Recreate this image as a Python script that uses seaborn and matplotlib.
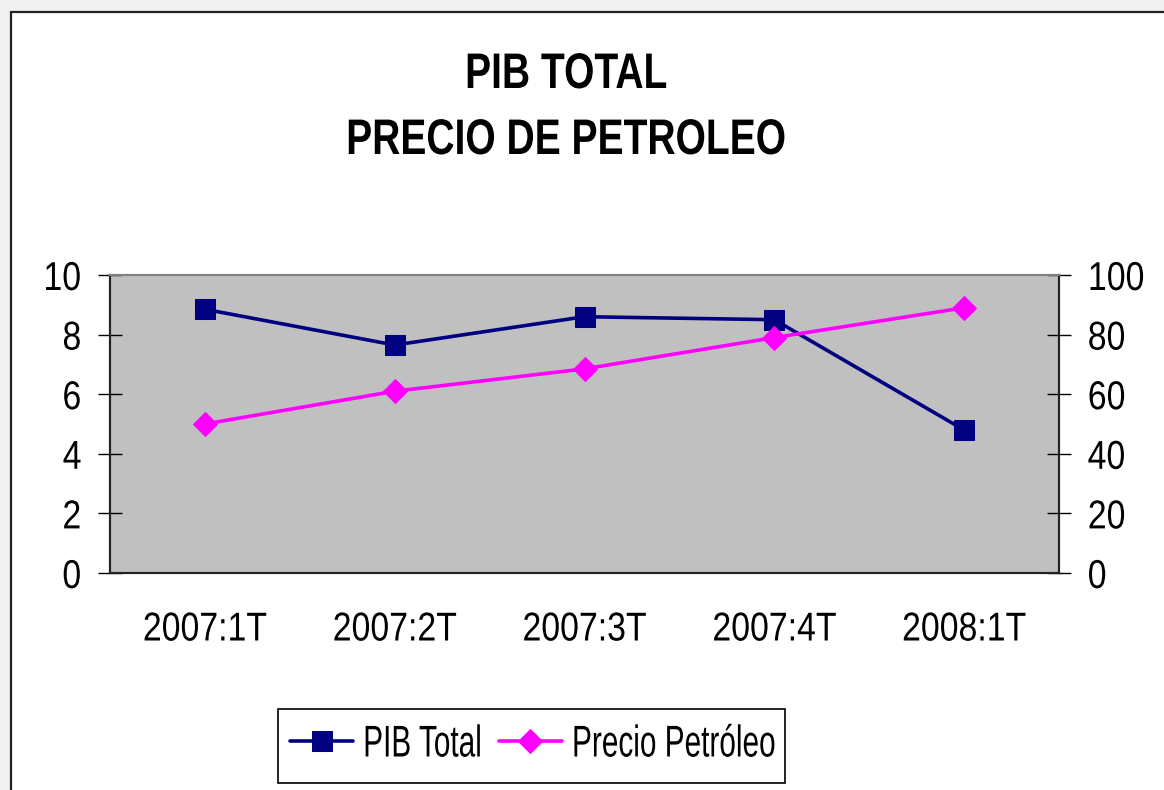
import pandas as pd
import matplotlib
matplotlib.use("Agg")
import matplotlib.pyplot as plt
import seaborn as sns
from matplotlib.patches import Rectangle
from matplotlib.patheffects import AbstractPathEffect
from matplotlib.transforms import Affine2D

# datos
trimestres = ["2007:1T", "2007:2T", "2007:3T", "2007:4T", "2008:1T"]
pib_total = [8.85, 7.65, 8.6, 8.5, 4.8]
precio_petroleo = [50, 61, 68.5, 79, 89]

sns.set_style("white")
plt.rcParams["font.family"] = ["Liberation Sans", "DejaVu Sans"]
for k in ["text.color", "axes.labelcolor", "xtick.color", "ytick.color"]:
    plt.rcParams[k] = "black"


class Estrecho(AbstractPathEffect):
    # comprime el texto en horizontal (letra tipo Arial Narrow)
    def __init__(self, sx=0.84, ancla="center"):
        super().__init__()
        self.sx = sx
        self.ancla = ancla

    def draw_path(self, renderer, gc, tpath, affine, rgbFace=None):
        ext = tpath.get_extents(affine)
        cx = {"left": ext.x0, "right": ext.x1}.get(self.ancla, (ext.x0 + ext.x1) / 2)
        t = affine + Affine2D().translate(-cx, 0).scale(self.sx, 1).translate(cx, 0)
        renderer.draw_path(gc, tpath, t, rgbFace)


df = pd.DataFrame({"trimestre": trimestres, "pib": pib_total, "petroleo": precio_petroleo})

W, H = 1164, 790
fig = plt.figure(figsize=(W / 100, H / 100), dpi=100)
fig.patch.set_facecolor("#f0f0f0")
# marco blanco del grafico
fig.patches.append(Rectangle((11 / W, -0.1), 1.2, 1 - 12 / H + 0.1, transform=fig.transFigure,
                             facecolor="white", edgecolor="#222222", linewidth=1.6, zorder=-5))

ax = fig.add_axes([110 / W, 1 - 573 / H, 949 / W, 298 / H])
ax.set_facecolor("#c0c0c0")
ax2 = ax.twinx()

sns.lineplot(data=df, x="trimestre", y="pib", ax=ax, color="#000080", linewidth=2.6,
             marker="s", markersize=14, markeredgecolor="#000080", label="PIB Total", legend=False)
sns.lineplot(data=df, x="trimestre", y="petroleo", ax=ax2, color="#ff00ff", linewidth=2.6,
             marker="D", markersize=12, markeredgecolor="#ff00ff", label="Precio Petróleo", legend=False)

ax.set_xlim(-0.5, len(trimestres) - 0.5)
ax.set_ylim(0, 10)
ax2.set_ylim(0, 100)
ax.set_yticks(range(0, 11, 2))
ax2.set_yticks(range(0, 101, 20))
ax.set_xticks(range(len(trimestres)))
ax.set_xticklabels(trimestres)
ax.set_xticks([i - 0.5 for i in range(len(trimestres) + 1)], minor=True)
ax.set_xlabel("")
ax.set_ylabel("")
ax2.set_ylabel("")

ax.tick_params(axis="x", which="major", length=0, pad=27, labelsize=29)
ax.tick_params(axis="x", which="minor", direction="inout", length=19, width=1, color="black")
ax.tick_params(axis="y", direction="inout", length=17, width=1, pad=12, labelsize=29, color="black", left=True)
ax2.tick_params(axis="y", direction="inout", length=17, width=1, pad=12, labelsize=29, color="black", right=True)

for lab in ax.get_xticklabels():
    lab.set_path_effects([Estrecho(0.84, "center")])
for lab in ax.get_yticklabels():
    lab.set_path_effects([Estrecho(0.84, "right")])
for lab in ax2.get_yticklabels():
    lab.set_path_effects([Estrecho(0.84, "left")])

for a in (ax, ax2):
    for s in a.spines.values():
        s.set_visible(True)
        s.set_linewidth(1.5)
        s.set_color("#222222")
    a.spines["top"].set_color("#808080")

for y, txt in [(75, "PIB TOTAL"), (141, "PRECIO DE PETROLEO")]:
    fig.text(566 / W, 1 - y / H, txt, ha="center", va="center", fontsize=36, fontweight="bold",
             path_effects=[Estrecho(0.78, "center")])

# leyenda: marco dibujado aparte, texto estrecho
fs_leg, sx_leg = 32, 0.67
px = fs_leg * 100 / 72
renderer = fig.canvas.get_renderer()
tmp = fig.text(0, 0, "PIB Total", fontsize=fs_leg)
w1 = tmp.get_window_extent(renderer).width
tmp.remove()
sobra = w1 * (1 - sx_leg)

fig.patches.append(Rectangle((278 / W, 1 - 783 / H), 507 / W, 74 / H, transform=fig.transFigure,
                             facecolor="white", edgecolor="black", linewidth=1.2, zorder=1))
h1, l1 = ax.get_legend_handles_labels()
h2, l2 = ax2.get_legend_handles_labels()
leg = fig.legend(h1 + h2, l1 + l2, loc="center left", bbox_to_anchor=(290 / W, 1 - 745 / H),
                 ncol=2, fontsize=fs_leg, frameon=False, handlelength=63 / px,
                 handletextpad=9 / px, columnspacing=(18 - sobra) / px, borderpad=0,
                 borderaxespad=0)
leg.set_zorder(2)
for t in leg.get_texts():
    t.set_path_effects([Estrecho(sx_leg, "left")])

fig.savefig("out.png", dpi=100, facecolor=fig.get_facecolor())
